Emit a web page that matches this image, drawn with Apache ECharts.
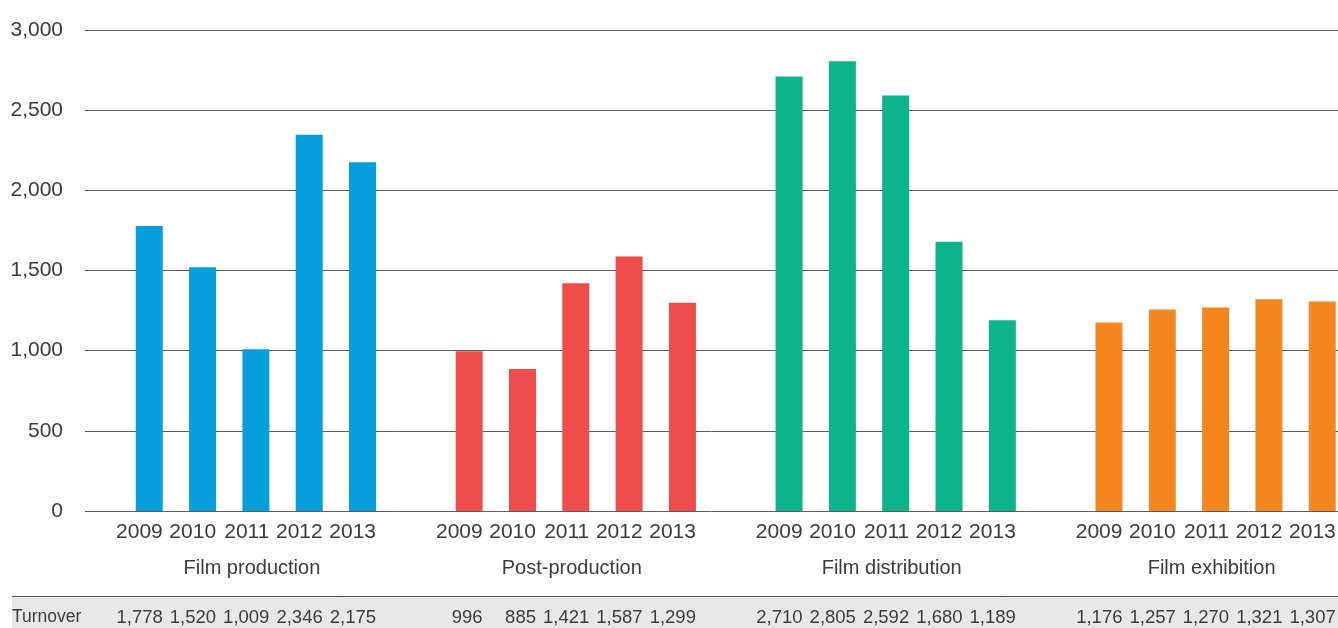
<!DOCTYPE html>
<html>
<head>
<meta charset="utf-8">
<script src="https://cdn.jsdelivr.net/npm/echarts@6/dist/echarts.min.js"></script>
<style>
html,body{margin:0;padding:0;background:#fff;}
#chart{width:1338px;height:628px;}
</style>
</head>
<body>
<div id="chart"></div>
<script>
const groups = ['Film production', 'Post-production', 'Film distribution', 'Film exhibition'];
const years = ['2009', '2010', '2011', '2012', '2013'];
const filmProduction = [1778, 1520, 1009, 2346, 2175];
const postProduction = [996, 885, 1421, 1587, 1299];
const filmDistribution = [2710, 2805, 2592, 1680, 1189];
const filmExhibition = [1176, 1257, 1270, 1321, 1307];
const yMin = 0, yMax = 3000, yInterval = 500;
const rowLabel = 'Turnover';
const palette = ['#069fdc', '#ef4c4c', '#0db38a', '#f58720'];

const groupValues = [filmProduction, postProduction, filmDistribution, filmExhibition];

// build slots: 5 bars per group with one blank slot between groups
const slotKeys = [], yearLabels = [], groupLabels = [], tableLabels = [], barData = [];
groupValues.forEach((vals, g) => {
  vals.forEach((v, i) => {
    slotKeys.push(groups[g] + ' ' + years[i]);
    yearLabels.push(years[i]);
    groupLabels.push(i === 2 ? groups[g] : '');
    tableLabels.push(v.toLocaleString('en-US'));
    barData.push({ value: v, itemStyle: { color: palette[g] } });
  });
  if (g < groupValues.length - 1) {
    slotKeys.push('gap' + g);
    yearLabels.push('');
    groupLabels.push('');
    tableLabels.push('');
    barData.push('-');
  }
});

const FONT = 'Liberation Sans, Arial, sans-serif';
const TXT = '#3c3c3c';
const chart = echarts.init(document.getElementById('chart'), null, { renderer: 'canvas' });

const barLeft = 122.6, barWidthTotal = 1226.3, labelShift = 13.5;
const gTop = 30, gHeight = 481;

chart.setOption({
  animation: false,
  backgroundColor: '#ffffff',
  textStyle: { fontFamily: FONT },
  grid: [
    { left: 85, right: 0, top: gTop, height: gHeight, outerBoundsMode: 'none', containLabel: false },
    { left: barLeft, width: barWidthTotal, top: gTop, height: gHeight, outerBoundsMode: 'none', containLabel: false },
    { left: barLeft + labelShift, width: barWidthTotal, top: gTop, height: gHeight, outerBoundsMode: 'none', containLabel: false }
  ],
  xAxis: [
    { gridIndex: 1, type: 'category', data: slotKeys, axisLine: { show: false }, axisTick: { show: false }, axisLabel: { show: false } },
    { gridIndex: 1, type: 'category', data: groupLabels, position: 'bottom', offset: 35,
      axisLine: { show: false }, axisTick: { show: false },
      axisLabel: { interval: 0, margin: 12, align: 'center', padding: [0, 8, 0, 0], fontSize: 20, color: TXT, fontFamily: FONT } },
    { gridIndex: 2, type: 'category', data: yearLabels, position: 'bottom',
      axisLine: { show: false }, axisTick: { show: false },
      axisLabel: { interval: 0, margin: 11, align: 'right', fontSize: 21, color: TXT, fontFamily: FONT } },
    { gridIndex: 2, type: 'category', data: tableLabels, position: 'bottom', offset: 85,
      axisLine: { show: false }, axisTick: { show: false },
      axisLabel: { interval: 0, margin: 12, align: 'right', fontSize: 18.5, color: TXT, fontFamily: FONT } },
    { gridIndex: 0, type: 'category', data: slotKeys, show: false }
  ],
  yAxis: [
    { gridIndex: 0, type: 'value', min: yMin, max: yMax, interval: yInterval,
      axisLine: { show: false }, axisTick: { show: false },
      splitLine: { show: true, lineStyle: { color: '#5e5e5e', width: 1 } },
      axisLabel: { margin: 22, fontSize: 21, color: TXT, fontFamily: FONT, padding: [0, 0, 11, 0],
        formatter: v => v.toLocaleString('en-US') } },
    { gridIndex: 1, type: 'value', min: yMin, max: yMax, interval: yInterval, show: false, splitLine: { show: false } },
    { gridIndex: 2, type: 'value', min: yMin, max: yMax, interval: yInterval, show: false, splitLine: { show: false } }
  ],
  series: [
    { type: 'bar', xAxisIndex: 0, yAxisIndex: 1, data: barData, barWidth: 27, z: 5 }
  ],
  graphic: [
    { type: 'rect', z: -10, shape: { x: 12, y: 597, width: 1326, height: 31 }, style: { fill: '#e6e7e8' } },
    { type: 'line', z: -5, shape: { x1: 12, y1: 596.5, x2: 1338, y2: 596.5 }, style: { stroke: '#555555', lineWidth: 1 } },
    { type: 'text', z: 10, x: 12, y: 617, style: { text: rowLabel, fontSize: 17.5, fill: TXT, fontFamily: FONT, verticalAlign: 'middle' } }
  ]
});
</script>
</body>
</html>
